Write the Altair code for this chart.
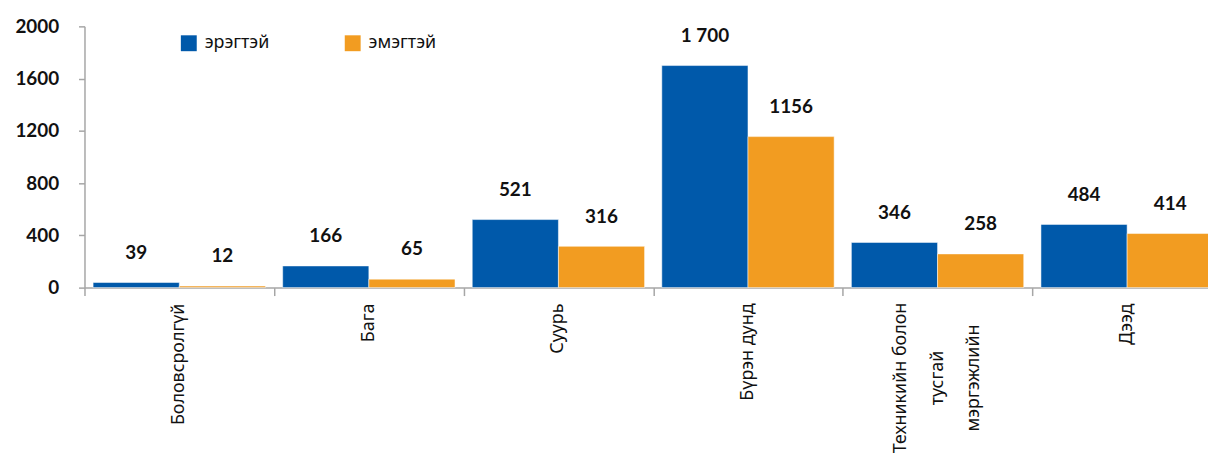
import altair as alt
import pandas as pd

# ---- data ----
categories = ["Боловсролгүй", "Бага", "Суурь", "Бүрэн дунд",
              "Техникийн болон тусгай мэргэжлийн", "Дээд"]
series = ["эрэгтэй", "эмэгтэй"]
male = [39, 166, 521, 1700, 346, 484]
female = [12, 65, 316, 1156, 258, 414]
male_labels = ["39", "166", "521", "1 700", "346", "484"]
female_labels = ["12", "65", "316", "1156", "258", "414"]
multiline_category = "Техникийн болон тусгай мэргэжлийн"
multiline_lines = ["Техникийн болон", "тусгай", "мэргэжлийн"]
y_ticks = [0, 400, 800, 1200, 1600, 2000]
colors = ["#0059AA", "#F29C21"]

rows = []
for c, v, t in zip(categories, male, male_labels):
    rows.append({"cat": c, "series": series[0], "value": v, "label": t})
for c, v, t in zip(categories, female, female_labels):
    rows.append({"cat": c, "series": series[1], "value": v, "label": t})
df = pd.DataFrame(rows)

single_df = pd.DataFrame({"cat": [c for c in categories if c != multiline_category]})
multi_df = pd.DataFrame({"cat": [multiline_category]})

PLOT_W = 1123
BAND_RANGE = 1145

x_enc = alt.X(
    "cat:N", sort=categories,
    scale=alt.Scale(range=[0, BAND_RANGE], paddingInner=0, paddingOuter=0),
    axis=alt.Axis(labels=False, title=None, tickBand="extent", tickSize=8,
                  tickColor="#A6A6A6", tickWidth=1.5,
                  domainColor="#A6A6A6", domainWidth=1.5),
)
xo_enc = alt.XOffset("series:N", sort=series,
                     scale=alt.Scale(paddingInner=0, paddingOuter=0.1))
y_enc = alt.Y(
    "value:Q",
    scale=alt.Scale(domain=[0, 2000], nice=False),
    axis=alt.Axis(values=y_ticks, format="d", title=None, grid=False, tickSize=6,
                  tickColor="#A6A6A6", tickWidth=1.5,
                  domainColor="#A6A6A6", domainWidth=1.5,
                  labelFont="Lato", labelFontWeight="bold", labelFontSize=19,
                  labelColor="#111111", labelPadding=20),
)

bars = alt.Chart(df).mark_bar(stroke="white", strokeWidth=0.5).encode(
    x=x_enc,
    xOffset=xo_enc,
    y=y_enc,
    color=alt.Color(
        "series:N", sort=series,
        scale=alt.Scale(domain=series, range=colors),
        legend=alt.Legend(orient="none", legendX=96, legendY=8,
                          direction="horizontal", title=None,
                          symbolType="square", symbolSize=256,
                          symbolStrokeWidth=0, labelFont="Noto Sans",
                          labelFontSize=18, labelColor="#111111",
                          labelOffset=7, columnPadding=74, padding=0),
    ),
)

values = alt.Chart(df).mark_text(
    font="Lato", fontWeight="bold", fontSize=19, color="#111111",
    baseline="middle", dy=-30,
).encode(
    x=alt.X("cat:N", sort=categories),
    xOffset=alt.XOffset("series:N", sort=series),
    y="value:Q",
    text="label:N",
)

xlabels = alt.Chart(single_df).mark_text(
    font="Noto Sans", fontSize=18, color="#111111",
    angle=270, align="right", baseline="middle",
).encode(
    x=alt.X("cat:N", sort=categories),
    y=alt.value(279),
    text="cat:N",
)

xlabels_multi = alt.Chart(multi_df).mark_text(
    font="Noto Sans", fontSize=18, color="#111111",
    angle=270, align="center", baseline="middle", lineHeight=37, dy=-37,
    text=multiline_lines,
).encode(
    x=alt.X("cat:N", sort=categories),
    y=alt.value(354),
)

chart = alt.layer(bars, values, xlabels, xlabels_multi).properties(
    width=PLOT_W, height=263,
    autosize=alt.AutoSizeParams(type="none"),
    padding={"left": 77, "top": 17, "right": 8, "bottom": 166},
).configure_view(stroke=None).configure_scale(bandPaddingInner=0)

chart.save("out.html", embed_options={"renderer": "svg", "actions": False})
